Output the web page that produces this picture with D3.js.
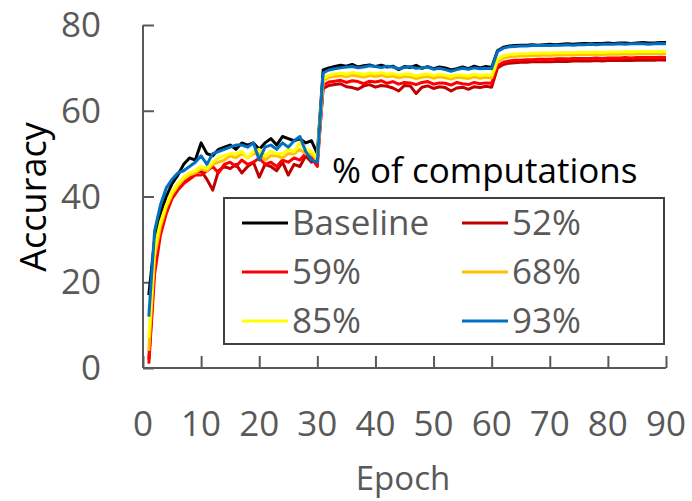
<!DOCTYPE html>
<html>
<head>
<meta charset="utf-8">
<script src="https://cdn.jsdelivr.net/npm/d3@7"></script>
<style>
  body { margin: 0; background: white; }
  text { font-family: "Open Sans", sans-serif; }
</style>
</head>
<body>
<div id="chart"></div>
<script>
// epochs 1..90
var epochs = d3.range(1, 91);
var xTicks = [0, 10, 20, 30, 40, 50, 60, 70, 80, 90];
var yTicks = [0, 20, 40, 60, 80];

var seriesNames = ["Baseline", "52%", "59%", "68%", "85%", "93%"];
var seriesColors = ["#000000", "#C00000", "#FF0000", "#FFC000", "#FFFF00", "#0070C0"];

var baseline = [
  17, 30, 36, 40, 43, 45, 47.5, 49, 48.5, 52.5, 50, 49.5, 51, 51.5, 52, 51, 52.5, 52, 52.5, 51,
  52.5, 53.5, 52, 54, 53.5, 53, 53.5, 52.5, 53, 50,
  69.5, 70, 70.3, 70.6, 70.4, 70.8, 70.2, 70.5, 70.7, 70.3, 70.6, 70.2, 70.4, 69.6, 70.3, 70.1, 70.6, 69.9, 70.3, 69.8,
  70.2, 70, 69.5, 69.8, 70.2, 69.8, 70.4, 70, 70.3, 70.1,
  74, 74.8, 75.1, 75.2, 75.3, 75.3, 75.4, 75.3, 75.4, 75.5, 75.4, 75.5, 75.6, 75.5, 75.6, 75.7, 75.6, 75.7, 75.7, 75.8,
  75.7, 75.8, 75.8, 75.7, 75.8, 75.9, 75.8, 75.8, 75.9, 75.9
];
var pct52 = [
  2, 24, 32, 37, 40, 42, 43.5, 44.5, 45.5, 46, 44, 41.5, 46, 47, 46.5, 47.5, 45.5, 47, 48, 44.5,
  47.5, 47, 46, 48, 45, 47.5, 47, 49.5, 48, 48.5,
  65.2, 65.9, 66.1, 66.3, 65.6, 65.4, 65, 65.8, 66.1, 65.5, 65.9, 65.7, 65.3, 64.6, 65.9, 65.8, 64, 65.5, 65.8, 65.2,
  65.6, 65.4, 64.6, 65.3, 65.5, 65, 65.6, 65.4, 65.7, 65.5,
  70, 70.8, 71.1, 71.2, 71.3, 71.3, 71.4, 71.4, 71.5, 71.4, 71.5, 71.5, 71.5, 71.6, 71.6, 71.6, 71.6, 71.7, 71.6, 71.7,
  71.7, 71.7, 71.8, 71.7, 71.8, 71.8, 71.8, 71.8, 71.9, 71.8
];
var pct59 = [
  1, 22, 31, 36, 39.5, 41.5, 43, 44, 45, 45, 46, 47, 45.5, 47.5, 48, 47, 48.5, 47.5, 48, 49,
  47.5, 48, 47, 48.5, 48, 49, 48.5, 50, 49, 47,
  66, 66.7, 66.9, 67.1, 66.6, 67, 66.8, 66.3, 66.9, 66.7, 67, 66.4, 66.8, 66.2, 66.6, 66.5, 66.1, 66.6, 66.8, 66.2,
  66.5, 66.4, 66, 66.6, 66.3, 66.1, 66.6, 66.3, 66.5, 66.4,
  70.5, 71.3, 71.6, 71.8, 71.8, 71.9, 71.9, 72, 72, 72, 72.1, 72.1, 72.1, 72.2, 72.2, 72.2, 72.2, 72.3, 72.2, 72.3,
  72.3, 72.3, 72.4, 72.3, 72.4, 72.4, 72.4, 72.4, 72.5, 72.4
];
var pct68 = [
  4, 26, 33, 37.5, 40.5, 42.5, 44, 45, 45.5, 46.5, 46, 47.5, 48, 48.5, 49.5, 49, 50, 49, 50, 50,
  48.5, 49.5, 49.5, 49, 50, 50, 51, 50, 50, 48.5,
  67, 67.8, 68, 68.2, 67.9, 68.3, 68.1, 67.8, 68.2, 68, 68.3, 67.9, 68.1, 67.7, 68, 67.9, 67.5, 67.8, 68, 67.6,
  67.9, 67.7, 67.4, 67.8, 67.7, 67.5, 67.9, 67.6, 67.8, 67.7,
  71.5, 72.3, 72.6, 72.7, 72.8, 72.8, 72.9, 72.9, 73, 72.9, 73, 73, 73.1, 73, 73.1, 73.1, 73.1, 73.2, 73.1, 73.2,
  73.2, 73.2, 73.3, 73.2, 73.3, 73.3, 73.3, 73.3, 73.4, 73.3
];
var pct85 = [
  7, 28, 34, 38, 41, 43, 44.5, 45.5, 46, 47, 46.5, 48, 49, 49.5, 50, 50, 50.5, 49, 50.5, 51,
  49.5, 50.5, 50, 50, 51, 50.5, 52.5, 51, 50.5, 49,
  67.5, 68.3, 68.6, 68.8, 68.5, 68.9, 68.7, 68.4, 68.8, 68.6, 68.9, 68.5, 68.7, 68.3, 68.6, 68.5, 68.1, 68.4, 68.6, 68.2,
  68.5, 68.3, 68, 68.4, 68.3, 68.1, 68.5, 68.2, 68.4, 68.3,
  72, 72.8, 73.1, 73.2, 73.3, 73.3, 73.4, 73.4, 73.5, 73.4, 73.5, 73.5, 73.6, 73.5, 73.6, 73.6, 73.6, 73.7, 73.6, 73.7,
  73.7, 73.7, 73.8, 73.7, 73.8, 73.8, 73.8, 73.8, 73.9, 73.8
];
var pct93 = [
  12, 32, 38, 42, 44, 45.5, 46, 47, 48, 49.5, 47.5, 50, 50.5, 51, 51.5, 52, 52, 51.5, 52.5, 48.5,
  51.5, 52, 51, 52.5, 51.5, 53, 54, 50.5, 48.5, 48,
  68.8, 69.5, 69.8, 70, 70.2, 70.3, 70, 70.2, 70.5, 70.3, 70.1, 70.4, 70.2, 69.8, 70.1, 70.3, 69.9, 70, 70.2, 69.7,
  69.9, 69.6, 69.2, 69.6, 69.9, 69.7, 70, 69.8, 69.9, 69.8,
  73.8, 74.6, 74.9, 75, 75.1, 75.1, 75.2, 75.2, 75.3, 75.2, 75.3, 75.3, 75.4, 75.3, 75.4, 75.4, 75.5, 75.4, 75.5, 75.5,
  75.5, 75.6, 75.5, 75.6, 75.6, 75.6, 75.5, 75.6, 75.7, 75.6
];
var seriesValues = [baseline, pct52, pct59, pct68, pct85, pct93];

var width = 692, height = 501;
var plot = {left: 143, right: 666, top: 25, bottom: 368};

var svg = d3.select("#chart")
  .append("svg")
    .attr("width", width)
    .attr("height", height);

var x = d3.scaleLinear()
  .domain([0, 90])
  .range([plot.left, plot.right]);

var y = d3.scaleLinear()
  .domain([0, 80])
  .range([plot.bottom, plot.top]);

// X axis (ticks point up into the plot)
var xAxis = svg.append("g")
  .attr("transform", "translate(0," + plot.bottom + ")")
  .call(d3.axisTop(x).tickValues(xTicks).tickSize(12).tickFormat(""));
xAxis.select(".domain").remove();
xAxis.append("line")
  .attr("x1", plot.left).attr("x2", plot.right)
  .attr("stroke", "#595959");
xAxis.selectAll("line")
  .attr("stroke", "#595959")
  .attr("stroke-width", 2);

svg.selectAll(".xlabel")
  .data(xTicks)
  .enter()
  .append("text")
    .attr("class", "xlabel")
    .attr("x", function(d) { return x(d); })
    .attr("y", 436)
    .attr("text-anchor", "middle")
    .attr("font-size", 35)
    .attr("fill", "#595959")
    .text(function(d) { return d; });

// Y axis (ticks point right into the plot)
var yAxis = svg.append("g")
  .attr("transform", "translate(" + plot.left + ",0)")
  .call(d3.axisRight(y).tickValues(yTicks).tickSize(11).tickFormat(""));
yAxis.select(".domain").remove();
yAxis.append("line")
  .attr("y1", plot.top).attr("y2", plot.bottom);
yAxis.selectAll("line")
  .attr("stroke", "#595959")
  .attr("stroke-width", 2);

svg.selectAll(".ylabel")
  .data(yTicks)
  .enter()
  .append("text")
    .attr("class", "ylabel")
    .attr("x", 101)
    .attr("y", function(d) { return y(d) + 12; })
    .attr("text-anchor", "end")
    .attr("font-size", 35)
    .attr("fill", "#595959")
    .text(function(d) { return d; });

// axis titles
svg.append("text")
  .attr("transform", "translate(46,197)rotate(-90)")
  .attr("text-anchor", "middle")
  .attr("font-size", 36)
  .attr("fill", "#000000")
  .text("Accuracy");

svg.append("text")
  .attr("x", 403)
  .attr("y", 490)
  .attr("text-anchor", "middle")
  .attr("font-size", 33)
  .attr("fill", "#595959")
  .text("Epoch");

// lines
var line = d3.line()
  .x(function(d, i) { return x(epochs[i]); })
  .y(function(d) { return y(d); });

svg.selectAll(".series")
  .data(seriesValues)
  .enter()
  .append("path")
    .attr("class", "series")
    .attr("d", function(d) { return line(d); })
    .attr("fill", "none")
    .attr("stroke", function(d, i) { return seriesColors[i]; })
    .attr("stroke-width", 3)
    .attr("stroke-linejoin", "round");

// legend
svg.append("text")
  .attr("x", 332)
  .attr("y", 183)
  .attr("font-size", 35)
  .attr("fill", "#000000")
  .text("% of computations");

svg.append("rect")
  .attr("x", 224)
  .attr("y", 198)
  .attr("width", 440)
  .attr("height", 146)
  .attr("fill", "white")
  .attr("stroke", "#404040")
  .attr("stroke-width", 2);

var legend = svg.selectAll(".legend")
  .data(seriesNames)
  .enter()
  .append("g")
    .attr("class", "legend")
    .attr("transform", function(d, i) {
        return "translate(" + (i % 2 == 0 ? 242 : 462) + "," + (223 + Math.floor(i / 2) * 49) + ")";
    });

legend.append("line")
  .attr("x1", 0).attr("x2", 46)
  .attr("stroke", function(d, i) { return seriesColors[i]; })
  .attr("stroke-width", 3);

legend.append("text")
  .attr("x", 50)
  .attr("y", 12)
  .attr("font-size", 35)
  .attr("fill", "#595959")
  .text(function(d) { return d; });
</script>
</body>
</html>
